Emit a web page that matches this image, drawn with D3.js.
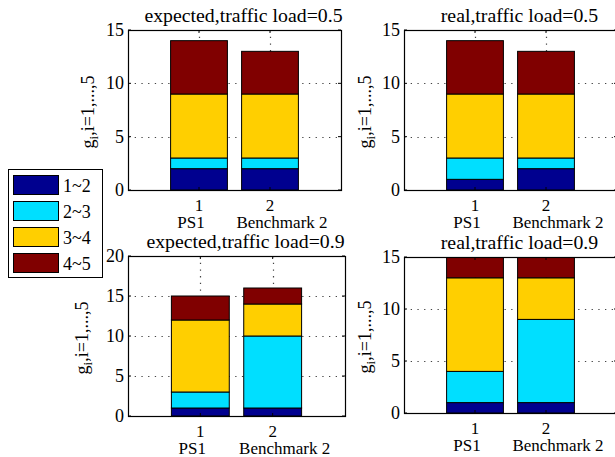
<!DOCTYPE html>
<html>
<head>
<meta charset="utf-8">
<script src="https://cdn.jsdelivr.net/npm/d3@7"></script>
<style>
  html, body { margin: 0; padding: 0; background: #fff; }
  svg { display: block; }
</style>
</head>
<body>
<svg id="chart" width="615" height="457" font-family="'Liberation Serif', 'DejaVu Serif', serif"></svg>
<script>
// Categories along the x axis (tick value and name underneath)
const tickValues = [1, 2];
const categoryNames = ["PS1", "Benchmark 2"];

// Stack segments, bottom to top
const ranges = ["1~2", "2~3", "3~4", "4~5"];
const rangeColors = ["#00008F", "#00DFFF", "#FFCF00", "#800000"];

// Segment heights per category: [PS1, Benchmark 2], each [1~2, 2~3, 3~4, 4~5]
const expectedLoad05 = [[2, 1, 6, 5], [2, 1, 6, 4]];
const realLoad05     = [[1, 2, 6, 5], [2, 1, 6, 4]];
const expectedLoad09 = [[1, 2, 9, 3], [1, 9, 4, 2]];
const realLoad09     = [[1, 3, 9, 2], [1, 8, 4, 2]];

const titles = [
  "expected,traffic load=0.5",
  "real,traffic load=0.5",
  "expected,traffic load=0.9",
  "real,traffic load=0.9"
];
const yTicks15 = [0, 5, 10, 15];
const yTicks20 = [0, 5, 10, 15, 20];

// Panel frames
const panels = [
  { title: titles[0], data: expectedLoad05, ticks: yTicks15, left: 128, right: 341, top: 30,  bottom: 190, ylabX: 94 },
  { title: titles[1], data: realLoad05,     ticks: yTicks15, left: 404, right: 617, top: 30,  bottom: 190, ylabX: 371 },
  { title: titles[2], data: expectedLoad09, ticks: yTicks20, left: 128, right: 345, top: 256, bottom: 416, ylabX: 88 },
  { title: titles[3], data: realLoad09,     ticks: yTicks15, left: 404, right: 617, top: 257, bottom: 413, ylabX: 371 }
];

const svg = d3.select("#chart");
const tickFont = 18, xLabFont = 17, titleFont = 19.8;

panels.forEach((p, pi) => {
  const x = d3.scaleLinear().domain([0, 3]).range([p.left, p.right]);
  const ymax = d3.max(p.ticks);
  const y = d3.scaleLinear().domain([0, ymax]).range([p.bottom, p.top]);
  const g = svg.append("g");

  const clipId = "clip" + pi;
  g.append("clipPath").attr("id", clipId)
    .append("rect")
    .attr("x", p.left).attr("y", p.top)
    .attr("width", p.right - p.left).attr("height", p.bottom - p.top);

  // dotted grid
  const grid = g.append("g")
    .attr("stroke", "#444").attr("stroke-width", 1.2)
    .attr("stroke-dasharray", "1.3,5.4");
  grid.selectAll("line.h").data(p.ticks.filter(t => t > 0 && t < ymax)).join("line")
    .attr("x1", p.left).attr("x2", p.right)
    .attr("y1", d => Math.round(y(d)) + 0.5).attr("y2", d => Math.round(y(d)) + 0.5);
  grid.selectAll("line.v").data(tickValues).join("line")
    .attr("x1", d => Math.round(x(d)) + 0.5).attr("x2", d => Math.round(x(d)) + 0.5)
    .attr("y1", p.top).attr("y2", p.bottom);

  // stacked bars
  const barW = x(0.8) - x(0);
  const stacks = p.data.map((segs, ci) => {
    let acc = 0;
    return segs.map((v, si) => {
      const s = { cat: ci, range: si, y0: acc, y1: acc + v };
      acc += v;
      return s;
    });
  }).flat();
  g.append("g").attr("clip-path", `url(#${clipId})`)
    .selectAll("rect").data(stacks).join("rect")
    .attr("x", d => x(tickValues[d.cat]) - barW / 2)
    .attr("width", barW)
    .attr("y", d => y(d.y1))
    .attr("height", d => y(d.y0) - y(d.y1))
    .attr("fill", d => rangeColors[d.range])
    .attr("stroke", "#000").attr("stroke-width", 1);

  // axes frame
  g.append("rect")
    .attr("x", p.left + 0.5).attr("y", p.top + 0.5)
    .attr("width", p.right - p.left).attr("height", p.bottom - p.top)
    .attr("fill", "none").attr("stroke", "#000").attr("stroke-width", 1.2);

  // inward tick marks
  const tk = 3;
  const ticks = g.append("g").attr("stroke", "#000").attr("stroke-width", 1);
  ticks.selectAll("line.yl").data(p.ticks).join("line")
    .attr("x1", p.left).attr("x2", p.left + tk)
    .attr("y1", d => y(d)).attr("y2", d => y(d));
  ticks.selectAll("line.yr").data(p.ticks).join("line")
    .attr("x1", p.right).attr("x2", p.right - tk)
    .attr("y1", d => y(d)).attr("y2", d => y(d));
  ticks.selectAll("line.xb").data(tickValues).join("line")
    .attr("x1", d => x(d)).attr("x2", d => x(d))
    .attr("y1", p.bottom).attr("y2", p.bottom - tk);
  ticks.selectAll("line.xt").data(tickValues).join("line")
    .attr("x1", d => x(d)).attr("x2", d => x(d))
    .attr("y1", p.top).attr("y2", p.top + tk);

  // y tick labels
  g.selectAll("text.ytl").data(p.ticks).join("text")
    .attr("x", p.left - 4).attr("y", d => y(d))
    .attr("dy", "0.34em")
    .attr("text-anchor", "end")
    .attr("font-size", tickFont)
    .text(d => d);

  // x tick labels: number, then category name
  g.selectAll("text.xtl").data(tickValues).join("text")
    .attr("x", d => x(d)).attr("y", p.bottom + 21)
    .attr("text-anchor", "middle")
    .attr("font-size", xLabFont)
    .text(d => d);
  const nameShift = [-8, 12];
  g.selectAll("text.xname").data(categoryNames).join("text")
    .attr("x", (d, i) => x(tickValues[i]) + nameShift[i]).attr("y", p.bottom + 38)
    .attr("text-anchor", "middle")
    .attr("font-size", xLabFont)
    .text(d => d);

  // title
  g.append("text")
    .attr("x", (p.left + p.right) / 2 + 9).attr("y", p.top - 8)
    .attr("text-anchor", "middle")
    .attr("font-size", titleFont)
    .text(p.title);

  // y label
  const yl = g.append("text")
    .attr("transform", `translate(${p.ylabX},${(p.top + p.bottom) / 2 + 2}) rotate(-90)`)
    .attr("text-anchor", "middle")
    .attr("font-size", tickFont);
  yl.append("tspan").text("g");
  yl.append("tspan").attr("font-size", 13).attr("dy", 4).text("i");
  yl.append("tspan").attr("dy", -4).text(",i=1,...,5");
});

// legend
const lg = svg.append("g");
lg.append("rect")
  .attr("x", 8.5).attr("y", 169.5).attr("width", 94).attr("height", 108)
  .attr("fill", "#fff").attr("stroke", "#000").attr("stroke-width", 1);
const items = lg.selectAll("g.item").data(ranges).join("g")
  .attr("transform", (d, i) => `translate(0,${175 + i * 26})`);
items.append("rect")
  .attr("x", 13.5).attr("y", 0.5).attr("width", 45).attr("height", 19)
  .attr("fill", (d, i) => rangeColors[i])
  .attr("stroke", "#000").attr("stroke-width", 1);
items.append("text")
  .attr("x", 63).attr("y", 17)
  .attr("font-size", tickFont)
  .text(d => d);
</script>
</body>
</html>
